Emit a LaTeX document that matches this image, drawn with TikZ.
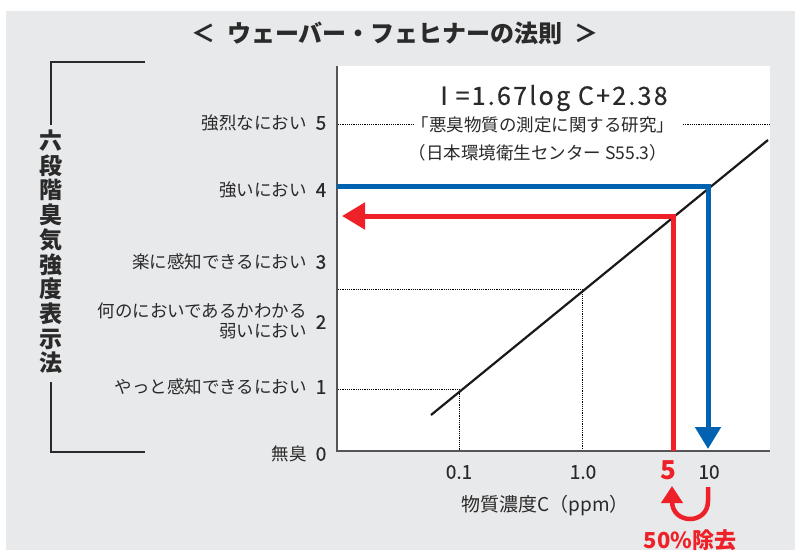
\documentclass[tikz,border=0pt]{standalone}
\usepackage{fontspec}
\setmainfont{Noto Sans CJK JP}
\usetikzlibrary{arrows.meta}
\definecolor{bggray}{HTML}{E8E9EB}
\definecolor{txt}{HTML}{2B2A2A}
\definecolor{axisc}{HTML}{555557}
\definecolor{bluec}{HTML}{0062B1}
\definecolor{redc}{HTML}{EE2129}
\newcommand{\fs}[1]{\fontsize{#1}{#1}\selectfont}
\begin{document}
\begin{tikzpicture}[x=1pt,y=-1pt,
  lbl/.style={anchor=east,inner sep=0pt,text=txt,font=\fs{17.5}},
  num/.style={inner sep=0pt,text=txt,font=\fs{19}\addfontfeature{FakeBold=0.6}},
  xnum/.style={inner sep=0pt,text=txt,font=\fs{19}\addfontfeature{FakeBold=0.4}},
  dotln/.style={dash pattern=on 1.2pt off 1pt,line width=1pt,draw=black},
  axisln/.style={line width=1.5pt,draw=axisc},
  bracketln/.style={line width=1.2pt,draw=txt},
  blueln/.style={line width=5pt,draw=bluec,-{Triangle[length=22pt,width=25pt]}},
  redln/.style={line width=5pt,draw=redc,-{Triangle[length=23pt,width=26pt]}},
  redturn/.style={line width=4.5pt,draw=redc,-{Triangle[length=17pt,width=21pt]}}
]
\useasboundingbox (0,0) rectangle (795,550);
\fill[white] (0,0) rectangle (795,550);
\fill[bggray] (6,11) rectangle (795,550);
\fill[white] (337,66) rectangle (770,451);

% title
\node[inner sep=0pt,text=txt,font=\fs{24}\bfseries] (title) at (395,33) {＜\hspace{0.5em}ウェーバー・フェヒナーの法則\hspace{0.5em}＞};

% vertical label with bracket
\node[inner sep=0pt,text=txt,font=\fontsize{23}{24.7}\selectfont\bfseries,align=center] (vlabel) at (51,252)
  {六\\段\\階\\臭\\気\\強\\度\\表\\示\\法};
\coordinate (bt1) at (145,62);
\coordinate (bt2) at (51,62);
\coordinate (bt3) at (51,125);
\coordinate (bb1) at (51,382);
\coordinate (bb2) at (51,452);
\coordinate (bb3) at (145,452);
\draw[bracketln] (bt1) -- (bt2) -- (bt3);
\draw[bracketln] (bb1) -- (bb2) -- (bb3);

% y labels
\node[lbl] (l5) at (307,123) {強烈なにおい};
\node[lbl] (l4) at (307,190) {強いにおい};
\node[lbl] (l3) at (307,262) {楽に感知できるにおい};
\node[lbl,align=right] (l2) at (307,321) {何のにおいであるかわかる\\[3pt]弱いにおい};
\node[lbl] (l1) at (307,387) {やっと感知できるにおい};
\node[lbl] (l0) at (307,454) {無臭};
\node[num] (n5) at (321,123) {5};
\node[num] (n4) at (321,190) {4};
\node[num] (n3) at (321,262) {3};
\node[num] (n2) at (321,322) {2};
\node[num] (n1) at (321,387) {1};
\node[num] (n0) at (321,454) {0};

% equation
\node[inner sep=0pt,text=txt,font=\fs{25}\addfontfeature{LetterSpace=9,FakeBold=0.5}] (eq) at (554,98) {I =1.67log C+2.38};
\node[inner sep=0pt,text=txt,font=\fs{17.5}] (src1) at (543,125) {「悪臭物質の測定に関する研究」};
\node[inner sep=0pt,text=txt,font=\fs{17.5}] (src2) at (538,153) {（日本環境衛生センター S55.3）};

% dotted reference lines
\coordinate (d5a) at (338,124);
\coordinate (d5b) at (415,124);
\coordinate (d5c) at (683,124);
\coordinate (d5d) at (770,124);
\draw[dotln] (d5a) -- (d5b);
\draw[dotln] (d5c) -- (d5d);
\coordinate (d2a) at (338,289);
\coordinate (p2) at (582,289);
\coordinate (p2b) at (582,451);
\draw[dotln] (d2a) -- (p2) -- (p2b);
\coordinate (d1a) at (338,389);
\coordinate (p1) at (459,389);
\coordinate (p1b) at (459,451);
\draw[dotln] (d1a) -- (p1) -- (p1b);

% regression line
\coordinate (ls) at (431,415);
\coordinate (le) at (768,140);
\draw[line width=2.2pt,draw=black!90] (ls) -- (le);

% axes
\coordinate (org) at (337,451);
\coordinate (ytop) at (337,66);
\coordinate (xend) at (770,451);
\draw[axisln] (ytop) -- (org) -- (xend);

% blue path
\coordinate (b0) at (337,186);
\coordinate (b1) at (708,186);
\coordinate (b2) at (708,449);
\draw[blueln] (b0) -- (b1) -- (b2);

% red path
\coordinate (r0) at (673,451);
\coordinate (r1) at (673,216);
\coordinate (r2) at (342,216);
\draw[redln] (r0) -- (r1) -- (r2);

% x labels
\node[xnum] (x01) at (459,472) {0.1};
\node[xnum] (x1) at (583,472) {1.0};
\node[inner sep=0pt,text=redc,font=\fs{26}\bfseries] (x5) at (668,470) {5};
\node[xnum] (x10) at (709,472) {10};
\node[inner sep=0pt,text=txt,font=\fs{19}] (xt) at (545,506) {物質濃度C（ppm）};

% U-turn arrow
\coordinate (u0) at (708,487);
\coordinate (u1) at (708,501);
\coordinate (u2) at (672,501);
\coordinate (u3) at (672,486);
\draw[redturn] (u0) -- (u1) .. controls (708,525) and (672,525) .. (u2) -- (u3);
\node[inner sep=0pt,text=redc,font=\fs{22}\bfseries] (rm) at (690,540) {50\%除去};
\end{tikzpicture}
\end{document}
